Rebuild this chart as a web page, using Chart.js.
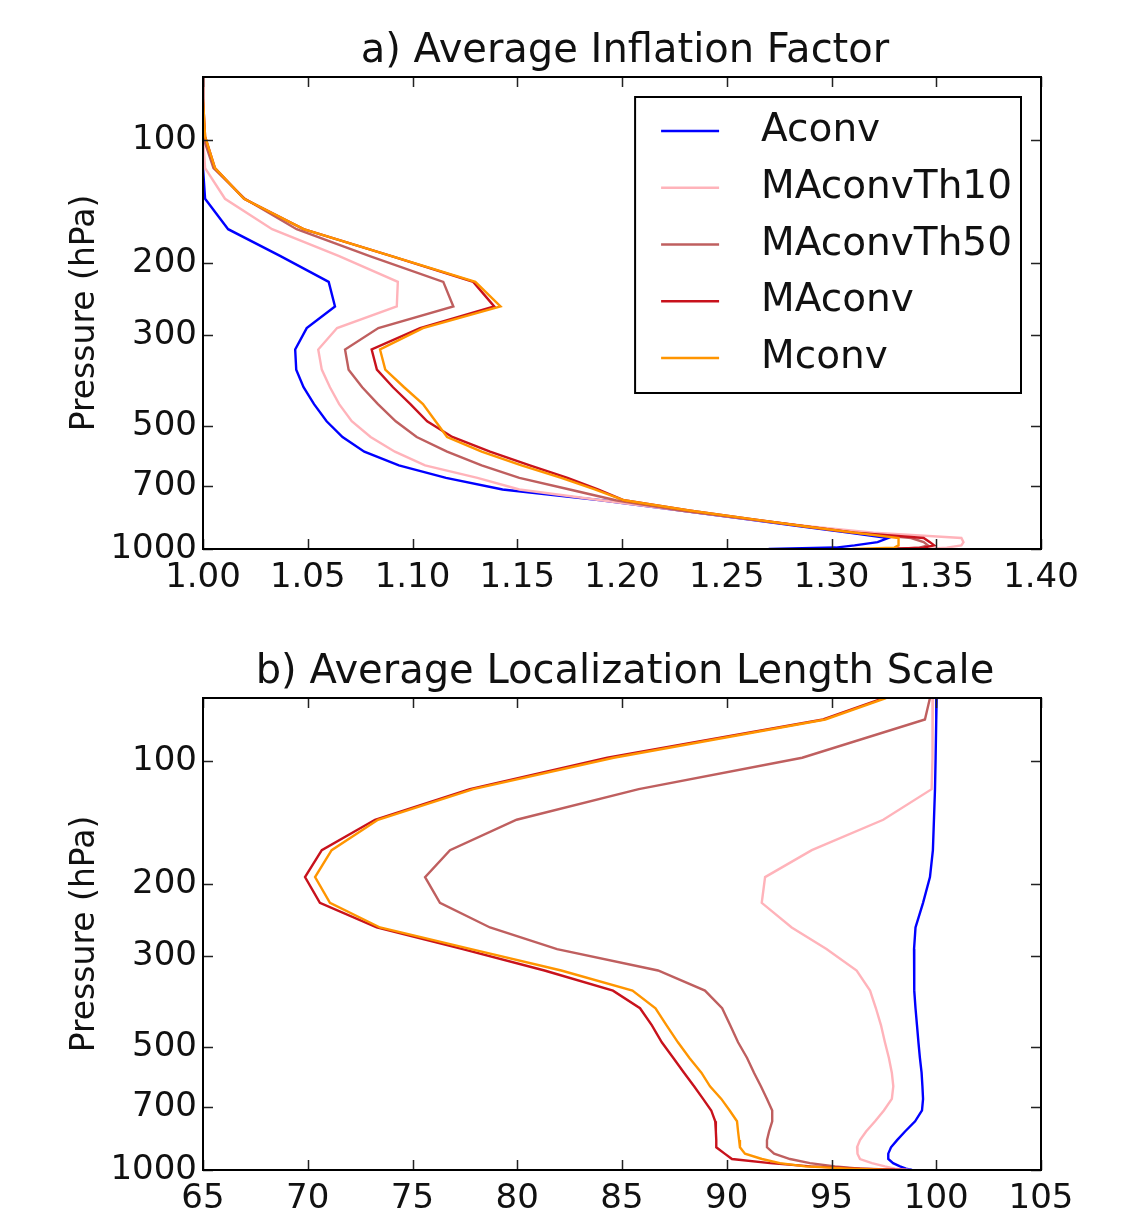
<!DOCTYPE html>
<html><head><meta charset="utf-8">
<script src="https://cdn.jsdelivr.net/npm/chart.js@4.4.1/dist/chart.umd.min.js"></script>
<style>
html,body{margin:0;padding:0;background:#fff;}
#wrap{position:relative;width:1146px;height:1225px;background:#fff;}
canvas{position:absolute;left:0;display:block;}
</style></head><body>
<div id="wrap">
<canvas id="c1" width="1146" height="612" style="top:0"></canvas>
<canvas id="c2" width="1146" height="613" style="top:612px"></canvas>
</div>
<script>
// ---------------- data ----------------
const pressureLevels = [70, 79, 98, 117, 139, 165, 192, 222, 255, 288, 325, 364, 402, 442, 487, 532, 578, 624, 670, 715, 760, 805, 845, 880, 912, 940, 962, 980, 992, 1000];
const pressureTicks = [100, 200, 300, 500, 700, 1000];
const inflationTicks = [1.00, 1.05, 1.10, 1.15, 1.20, 1.25, 1.30, 1.35, 1.40];
const lengthTicks = [65, 70, 75, 80, 85, 90, 95, 100, 105];
const seriesNames = ['Aconv', 'MAconvTh10', 'MAconvTh50', 'MAconv', 'Mconv'];

// a) Average inflation factor
const inflAconv   = [1.000, 1.000, 1.000, 1.000, 1.001, 1.012, 1.037, 1.060, 1.063, 1.0495, 1.044, 1.0445, 1.048, 1.053, 1.059, 1.0666, 1.077, 1.0935, 1.116, 1.143, 1.190, 1.228, 1.259, 1.285, 1.308, 1.327, 1.322, 1.311, 1.302, 1.270];
const inflTh10    = [1.000, 1.000, 1.000, 1.001, 1.0105, 1.033, 1.065, 1.093, 1.0925, 1.064, 1.055, 1.0567, 1.0606, 1.065, 1.071, 1.080, 1.0916, 1.106, 1.131, 1.151, 1.190, 1.228, 1.260, 1.289, 1.320, 1.362, 1.363, 1.362, 1.355, 1.345];
const inflTh50    = [1.000, 1.000, 1.000, 1.005, 1.020, 1.0447, 1.0796, 1.1147, 1.1195, 1.0837, 1.0678, 1.0695, 1.076, 1.0835, 1.092, 1.102, 1.1165, 1.133, 1.151, 1.175, 1.197, 1.228, 1.260, 1.287, 1.310, 1.338, 1.344, 1.346, 1.342, 1.330];
const inflMAconv  = [1.000, 1.000, 1.001, 1.0057, 1.0196, 1.048, 1.090, 1.129, 1.139, 1.1036, 1.0805, 1.083, 1.0907, 1.099, 1.107, 1.119, 1.137, 1.156, 1.174, 1.1885, 1.201, 1.232, 1.262, 1.287, 1.311, 1.344, 1.347, 1.349, 1.344, 1.325];
const inflMconv   = [1.000, 1.000, 1.001, 1.0057, 1.0196, 1.048, 1.090, 1.130, 1.142, 1.105, 1.0845, 1.087, 1.096, 1.105, 1.111, 1.1165, 1.133, 1.152, 1.171, 1.187, 1.201, 1.232, 1.262, 1.287, 1.311, 1.332, 1.332, 1.332, 1.330, 1.310];

// b) Average localization length scale
const locAconv    = [100.02, 100.0, 99.97, 99.94, 99.89, 99.84, 99.70, 99.37, 99.01, 98.94, 98.94, 98.96, 99.01, 99.08, 99.15, 99.22, 99.30, 99.34, 99.37, 99.32, 98.99, 98.51, 98.13, 97.84, 97.71, 97.71, 97.94, 98.27, 98.56, 98.84];
const locTh10     = [99.84, 99.84, 99.80, 99.78, 97.47, 94.06, 91.83, 91.67, 93.10, 94.76, 96.20, 96.84, 97.12, 97.36, 97.55, 97.74, 97.88, 97.95, 97.88, 97.50, 97.08, 96.65, 96.36, 96.22, 96.24, 96.36, 96.93, 97.55, 98.03, 98.75];
const locTh50     = [99.70, 99.46, 93.60, 85.80, 79.97, 76.79, 75.60, 76.31, 78.70, 81.90, 86.72, 88.96, 89.78, 90.16, 90.54, 90.97, 91.30, 91.63, 91.92, 92.17, 92.17, 92.02, 91.92, 91.92, 92.26, 93.02, 93.97, 95.17, 96.36, 98.03];
const locMAconv   = [97.50, 94.60, 84.30, 77.74, 73.21, 70.67, 69.87, 70.58, 73.29, 77.40, 81.30, 84.57, 85.86, 86.42, 86.90, 87.45, 87.96, 88.44, 88.87, 89.26, 89.45, 89.48, 89.50, 89.50, 89.90, 90.25, 92.07, 94.00, 96.40, 98.56];
const locMconv    = [97.60, 94.70, 84.60, 77.90, 73.35, 71.14, 70.35, 71.06, 73.45, 77.80, 82.10, 85.50, 86.60, 87.12, 87.67, 88.22, 88.79, 89.20, 89.74, 90.14, 90.49, 90.54, 90.59, 90.63, 90.87, 91.68, 92.54, 93.74, 95.90, 97.80];

// ---------------- styling ----------------
const seriesColors = ['#0000ff', '#ffb3ba', '#bf5f5f', '#c8121c', '#ff9500'];
const FONT = "'DejaVu Sans', sans-serif";

function toPoints(values) {
  return values.map((v, i) => ({ x: v, y: pressureLevels[i] }));
}
function makeDatasets(list) {
  return list.map((vals, i) => ({
    label: seriesNames[i],
    data: toPoints(vals),
    borderColor: seriesColors[i],
    backgroundColor: seriesColors[i],
    borderWidth: 2.4,
    pointRadius: 0,
    showLine: true,
    fill: false,
    tension: 0,
    order: list.length - i
  }));
}

const decoPlugin = {
  id: 'deco',
  afterDraw(chart, args, opts) {
    const ctx = chart.ctx;
    const a = chart.chartArea;
    const xs = chart.scales.x, ys = chart.scales.y;
    ctx.save();
    // inward tick marks on all four sides
    ctx.strokeStyle = '#222';
    ctx.lineWidth = 1.5;
    const tl = 10;
    ctx.beginPath();
    opts.xTicks.forEach(v => {
      const px = Math.round(xs.getPixelForValue(v)) + 0.5;
      ctx.moveTo(px, a.bottom); ctx.lineTo(px, a.bottom - tl);
      ctx.moveTo(px, a.top); ctx.lineTo(px, a.top + tl);
    });
    pressureTicks.forEach(v => {
      const py = Math.round(ys.getPixelForValue(v)) + 0.5;
      ctx.moveTo(a.left, py); ctx.lineTo(a.left + tl, py);
      ctx.moveTo(a.right, py); ctx.lineTo(a.right - tl, py);
    });
    ctx.stroke();
    // frame
    ctx.strokeStyle = '#000';
    ctx.lineWidth = 2;
    ctx.strokeRect(a.left, a.top, a.right - a.left, a.bottom - a.top);
    // title
    ctx.fillStyle = '#111';
    ctx.font = '40px ' + FONT;
    ctx.textAlign = 'center';
    ctx.textBaseline = 'middle';
    ctx.fillText(opts.title, (a.left + a.right) / 2 + 3, a.top - opts.titleGap);
    // legend
    if (opts.legend) {
      ctx.font = '39px ' + FONT;
      let maxW = 0;
      seriesNames.forEach(n => { maxW = Math.max(maxW, ctx.measureText(n).width); });
      const padL = 26, sample = 58, gap = 42, padR = 9;
      const boxW = padL + sample + gap + maxW + padR;
      const rowH = 56.75;
      const boxH = 296;
      const bx = a.right - 20 - boxW, by = a.top + 20;
      ctx.fillStyle = '#fff';
      ctx.fillRect(bx, by, boxW, boxH);
      ctx.strokeStyle = '#000';
      ctx.lineWidth = 2;
      ctx.strokeRect(bx, by, boxW, boxH);
      seriesNames.forEach((n, i) => {
        const cy = by + 34 + i * rowH;
        ctx.strokeStyle = seriesColors[i];
        ctx.lineWidth = 2.4;
        ctx.beginPath();
        ctx.moveTo(bx + padL, cy); ctx.lineTo(bx + padL + sample, cy);
        ctx.stroke();
        ctx.fillStyle = '#111';
        ctx.textAlign = 'left';
        ctx.textBaseline = 'middle';
        ctx.fillText(n, bx + padL + sample + gap, cy);
      });
    }
    ctx.restore();
  }
};

function makeChart(id, datasets, xmin, xmax, xTicks, xFmt, topPad, xHeight, title, titleGap, legend) {
  return new Chart(document.getElementById(id), {
    type: 'scatter',
    data: { datasets },
    options: {
      responsive: false,
      animation: false,
      devicePixelRatio: 1,
      layout: { padding: { top: topPad, right: 105, bottom: 0, left: 0 } },
      plugins: {
        legend: { display: false },
        tooltip: { enabled: false },
        title: { display: false },
        deco: { title, titleGap, legend, xTicks }
      },
      scales: {
        x: {
          type: 'linear', min: xmin, max: xmax,
          afterBuildTicks: s => { s.ticks = xTicks.map(v => ({ value: v })); },
          afterFit: s => { s.height = xHeight; },
          grid: { display: false, drawTicks: false },
          border: { display: false },
          ticks: { callback: xFmt, color: '#111', font: { family: FONT, size: 34 }, padding: 9, maxRotation: 0, autoSkip: false }
        },
        y: {
          type: 'logarithmic', reverse: true, min: 70, max: 1000,
          afterBuildTicks: s => { s.ticks = pressureTicks.map(v => ({ value: v })); },
          afterFit: s => { s.width = 203; },
          grid: { display: false, drawTicks: false },
          border: { display: false },
          ticks: { callback: v => String(v), color: '#111', font: { family: FONT, size: 34 }, padding: 6, autoSkip: false },
          title: { display: true, text: 'Pressure (hPa)', color: '#111', font: { family: FONT, size: 33 }, padding: { top: 66, bottom: 0 } }
        }
      }
    },
    plugins: [decoPlugin]
  });
}

makeChart('c1', makeDatasets([inflAconv, inflTh10, inflTh50, inflMAconv, inflMconv]),
  1.0, 1.4, inflationTicks, v => Number(v).toFixed(2), 77, 63,
  'a) Average Inflation Factor', 25, true);
makeChart('c2', makeDatasets([locAconv, locTh10, locTh50, locMAconv, locMconv]),
  65, 105, lengthTicks, v => String(v), 86, 55,
  'b) Average Localization Length Scale', 25, false);
</script>
</body></html>
